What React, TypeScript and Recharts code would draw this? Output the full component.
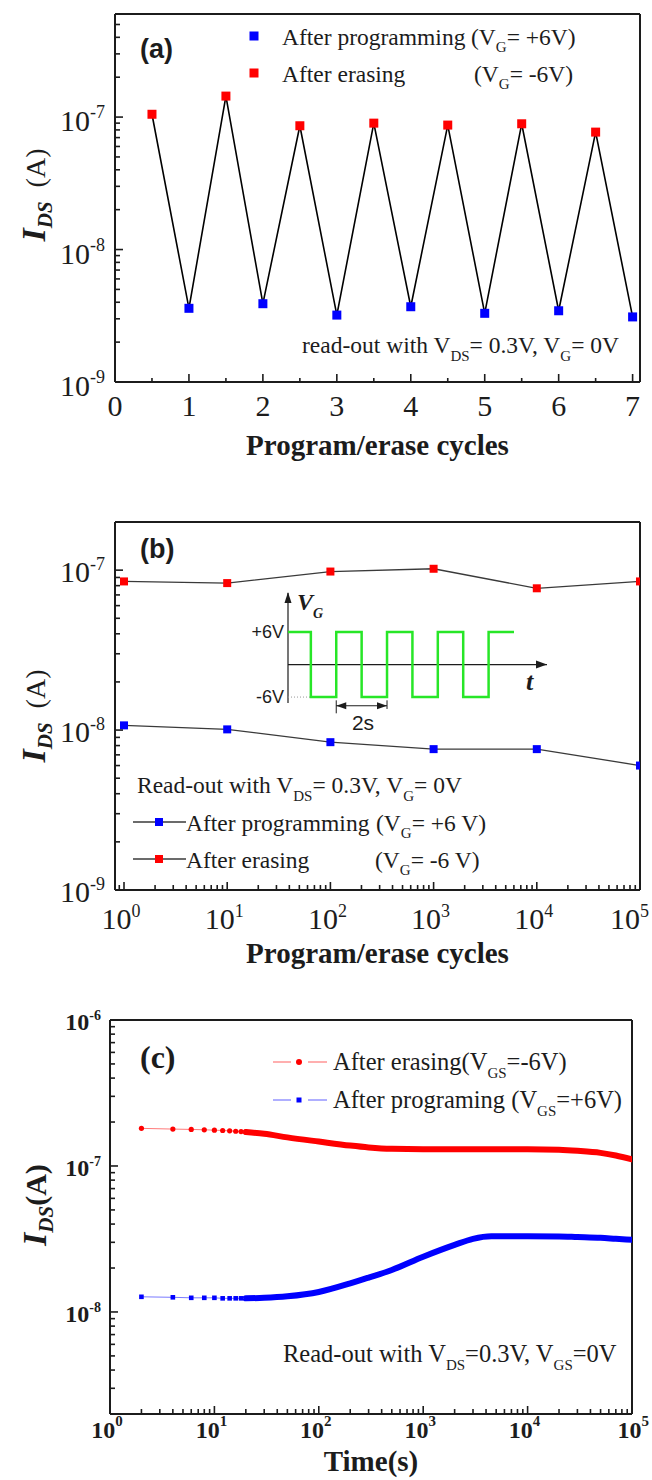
import React from "react";
import { LineChart, Line, XAxis, YAxis, ReferenceLine, ReferenceDot } from "recharts";

const SERIF = "'Liberation Serif', 'Times New Roman', serif";
const SANS = "'Liberation Sans', Arial, sans-serif";
const INK = "#1c1c1c";
const RED = "#ff0000";
const BLUE = "#0000ff";
const GREEN = "#27e627";

// (a) program / erase alternating, linear cycle axis
const eraseCyclesA = [0.5, 1.5, 2.5, 3.5, 4.5, 5.5, 6.5];
const eraseA = [1.05e-7, 1.44e-7, 8.6e-8, 9.0e-8, 8.7e-8, 8.9e-8, 7.7e-8];
const progCyclesA = [1, 2, 3, 4, 5, 6, 7];
const progA = [3.6e-9, 3.9e-9, 3.2e-9, 3.7e-9, 3.3e-9, 3.45e-9, 3.1e-9];
const xTicksA = [0, 0.5, 1, 1.5, 2, 2.5, 3, 3.5, 4, 4.5, 5, 5.5, 6, 6.5, 7];

// (b) endurance over log cycles
const cyclesB = [1, 10, 100, 1000, 10000, 100000];
const eraseB = [8.5e-8, 8.3e-8, 9.8e-8, 1.02e-7, 7.7e-8, 8.5e-8];
const progB = [1.07e-8, 1.01e-8, 8.4e-9, 7.6e-9, 7.6e-9, 6.0e-9];

// inset: gate pulse train (s, V)
const pulseT = [0, 0.9, 1.9, 2.9, 3.9, 4.9, 5.9, 6.9, 7.9, 8.9];
const pulseV = [6, -6, 6, -6, 6, -6, 6, -6, 6, 6];

// (c) retention: sparse early readings, then the dense band
const earlyT = [2, 4, 6, 8, 10, 12, 14, 16, 18, 20];
const earlyErase = [1.81e-7, 1.79e-7, 1.78e-7, 1.77e-7, 1.76e-7, 1.75e-7, 1.74e-7, 1.73e-7, 1.72e-7, 1.71e-7];
const earlyProg = [1.27e-8, 1.26e-8, 1.25e-8, 1.25e-8, 1.25e-8, 1.24e-8, 1.24e-8, 1.24e-8, 1.24e-8, 1.24e-8];
const bandT = [20, 30, 50, 100, 200, 300, 500, 1000, 2000, 3000, 4500, 10000, 20000, 30000, 50000, 70000, 100000];
const bandErase = [1.71e-7, 1.66e-7, 1.57e-7, 1.47e-7, 1.38e-7, 1.34e-7, 1.31e-7, 1.30e-7, 1.30e-7, 1.30e-7, 1.30e-7, 1.30e-7, 1.29e-7, 1.27e-7, 1.23e-7, 1.18e-7, 1.11e-7];
const bandProg = [1.24e-8, 1.25e-8, 1.28e-8, 1.37e-8, 1.57e-8, 1.72e-8, 1.94e-8, 2.39e-8, 2.88e-8, 3.17e-8, 3.30e-8, 3.30e-8, 3.29e-8, 3.26e-8, 3.22e-8, 3.17e-8, 3.12e-8];

const logTicks = (lo: number, hi: number) => {
  const out: number[] = [];
  for (let e = lo; e < hi; e++) for (let m = 1; m < 10; m++) out.push(m * Math.pow(10, e));
  out.push(Math.pow(10, hi));
  return out;
};
const isMajor = (v: number) => Math.abs(Math.log10(v) - Math.round(Math.log10(v))) < 1e-6;

const yTicksA = logTicks(-9, -6).filter((v) => v <= 6.01e-7);
const yTicksB = logTicks(-9, -6).filter((v) => v <= 2.01e-7);
const xTicksB = [0.9, ...logTicks(0, 5)];
const yTicksC = logTicks(-9, -6).filter((v) => v >= 1.99e-9);
const xTicksC = logTicks(0, 5);

const rowsA = [
  ...eraseCyclesA.map((x, k) => ({ x, i: eraseA[k], kind: "e" })),
  ...progCyclesA.map((x, k) => ({ x, i: progA[k], kind: "p" })),
].sort((a, b) => a.x - b.x);
const rowsB = cyclesB.map((n, k) => ({ n, erase: eraseB[k], prog: progB[k] }));
const pulseRows = pulseT.map((t, k) => ({ t, v: pulseV[k] }));
const earlyRows = earlyT.map((t, k) => ({ t, erase: earlyErase[k], prog: earlyProg[k] }));
const bandRows = bandT.map((t, k) => ({ t, erase: bandErase[k], prog: bandProg[k] }));

type TickFont = { size: number; sup: number; supDy: number; bold?: boolean; gap: number; dy: number };

const leftLogTick = (f: TickFont) => (p: any) => {
  const v = p.payload.value;
  const major = isMajor(v);
  const e = Math.round(Math.log10(v));
  return (
    <g key={`yl${p.index}`}>
      <line x1={p.x} y1={p.y} x2={p.x + (major ? 8 : 5)} y2={p.y} stroke={INK} strokeWidth={1.6} />
      {major && (
        <text x={p.x - f.gap} y={p.y + f.dy} textAnchor="end" fontFamily={SERIF} fontSize={f.size}
          fontWeight={f.bold ? 700 : 400} fill={INK}>
          10<tspan dy={f.supDy} fontSize={f.sup}>{e}</tspan>
        </text>
      )}
    </g>
  );
};

const bottomLogTick = (f: TickFont) => (p: any) => {
  const v = p.payload.value;
  const major = isMajor(v);
  const e = Math.round(Math.log10(v));
  // keep the last label inside the page edge
  const nearEdge = p.x + f.size > 648;
  return (
    <g key={`xl${p.index}`}>
      <line x1={p.x} y1={p.y} x2={p.x} y2={p.y - (major ? 8 : 5)} stroke={INK} strokeWidth={1.6} />
      {major && (
        <text x={nearEdge ? 649 : p.x - f.gap} y={p.y + f.dy} textAnchor={nearEdge ? "end" : "middle"}
          fontFamily={SERIF} fontSize={f.size} fontWeight={f.bold ? 700 : 400} fill={INK}>
          10<tspan dy={f.supDy} fontSize={f.sup}>{e}</tspan>
        </text>
      )}
    </g>
  );
};

const linTickA = (p: any) => {
  const v = p.payload.value;
  const major = Number.isInteger(v);
  return (
    <g key={`xa${p.index}`}>
      <line x1={p.x} y1={p.y} x2={p.x} y2={p.y - (major ? 8 : 4)} stroke={INK} strokeWidth={1.6} />
      {major && (
        <text x={p.x} y={p.y + 34} textAnchor="middle" fontFamily={SERIF} fontSize={30} fill={INK}>{v}</text>
      )}
    </g>
  );
};

const square = (size: number, pick: (p: any) => string) => (p: any) => (
  <rect key={`sq${p.index}`} x={p.cx - size / 2} y={p.cy - size / 2} width={size} height={size} fill={pick(p)} />
);

const axisLine = { stroke: INK, strokeWidth: 2 };

const PanelA = () => (
  <LineChart width={652} height={480} data={rowsA} margin={{ top: 14, right: 12, bottom: 0, left: 0 }}>
    <XAxis dataKey="x" type="number" domain={[0, 7.1]} allowDataOverflow ticks={xTicksA} interval={0} height={98}
      tickSize={0} tickMargin={0} tickLine={false} axisLine={axisLine} tick={linTickA} />
    <YAxis type="number" scale="log" domain={[1e-9, 6e-7]} allowDataOverflow ticks={yTicksA} interval={0} width={115}
      tickSize={0} tickMargin={0} tickLine={false} axisLine={axisLine}
      tick={leftLogTick({ size: 30, sup: 18, supDy: -13, gap: 10, dy: 14 })} />
    <ReferenceLine y={6e-7} stroke={INK} strokeWidth={2} ifOverflow="visible" />
    <ReferenceLine x={7.1} stroke={INK} strokeWidth={2} ifOverflow="visible" />
    <Line dataKey="i" stroke="#000" strokeWidth={1.6} isAnimationActive={false}
      dot={square(9, (p) => (p.payload.kind === "p" ? BLUE : RED))} />
  </LineChart>
);

const PanelB = () => (
  <LineChart width={652} height={480} data={rowsB} margin={{ top: 22, right: 12, bottom: 0, left: 0 }}>
    <XAxis dataKey="n" type="number" scale="log" domain={[0.818, 1e5]} allowDataOverflow ticks={xTicksB} interval={0}
      height={90} tickSize={0} tickMargin={0} tickLine={false} axisLine={axisLine}
      tick={bottomLogTick({ size: 30, sup: 18, supDy: -12, gap: 3, dy: 39 })} />
    <YAxis type="number" scale="log" domain={[1e-9, 2e-7]} allowDataOverflow ticks={yTicksB} interval={0} width={115}
      tickSize={0} tickMargin={0} tickLine={false} axisLine={axisLine}
      tick={leftLogTick({ size: 30, sup: 18, supDy: -12, gap: 10, dy: 12 })} />
    <ReferenceLine y={2e-7} stroke={INK} strokeWidth={2} ifOverflow="visible" />
    <ReferenceLine x={1e5} stroke={INK} strokeWidth={2} ifOverflow="visible" />
    <Line dataKey="erase" stroke="#3a3a3a" strokeWidth={1.3} isAnimationActive={false} dot={square(8, () => RED)} />
    <Line dataKey="prog" stroke="#3a3a3a" strokeWidth={1.3} isAnimationActive={false} dot={square(8, () => BLUE)} />
  </LineChart>
);

const arrow = (d: (x: number, y: number) => string) => (p: any) => <path d={d(p.cx, p.cy)} fill={INK} />;

const PulseInset = () => (
  <LineChart width={340} height={170} data={pulseRows} margin={{ top: 22, right: 23, bottom: 25.6, left: 58 }}>
    <XAxis dataKey="t" type="number" domain={[0, 10.2]} allowDataOverflow hide />
    <YAxis type="number" domain={[-9.2, 13.4]} allowDataOverflow hide />
    <ReferenceLine y={0} stroke={INK} strokeWidth={1.2} ifOverflow="visible" />
    <ReferenceLine segment={[{ x: 0, y: -7.1 }, { x: 0, y: 13.2 }]} stroke={INK} strokeWidth={1.2} ifOverflow="visible" />
    <ReferenceLine segment={[{ x: 0, y: -6 }, { x: 0.9, y: -6 }]} stroke="#999" strokeWidth={1} strokeDasharray="1 2" ifOverflow="visible" />
    <ReferenceLine segment={[{ x: 1.9, y: -7.6 }, { x: 3.9, y: -7.6 }]} stroke={INK} strokeWidth={1.2} ifOverflow="visible" />
    <ReferenceLine segment={[{ x: 1.9, y: -6.6 }, { x: 1.9, y: -9.0 }]} stroke={INK} strokeWidth={1} ifOverflow="visible" />
    <ReferenceLine segment={[{ x: 3.9, y: -6.6 }, { x: 3.9, y: -8.2 }]} stroke={INK} strokeWidth={1} ifOverflow="visible" />
    <ReferenceDot x={10.2} y={0} r={1} ifOverflow="visible" shape={arrow((x, y) => `M${x},${y} l-11,-4 l0,8 z`)} />
    <ReferenceDot x={0} y={13.4} r={1} ifOverflow="visible" shape={arrow((x, y) => `M${x},${y} l-3.5,11 l7,0 z`)} />
    <ReferenceDot x={1.9} y={-7.6} r={1} ifOverflow="visible" shape={arrow((x, y) => `M${x},${y} l10,-3.5 l0,7 z`)} />
    <ReferenceDot x={3.9} y={-7.6} r={1} ifOverflow="visible" shape={arrow((x, y) => `M${x},${y} l-10,-3.5 l0,7 z`)} />
    <Line dataKey="v" type="stepAfter" stroke={GREEN} strokeWidth={2.5} dot={false} isAnimationActive={false} />
  </LineChart>
);

const PanelC = () => (
  <LineChart width={652} height={490} margin={{ top: 30, right: 20, bottom: 0, left: 0 }}>
    <XAxis dataKey="t" type="number" scale="log" domain={[1, 1e5]} allowDataOverflow ticks={xTicksC} interval={0}
      height={66} tickSize={0} tickMargin={0} tickLine={false} axisLine={axisLine}
      tick={bottomLogTick({ size: 24, sup: 15, supDy: -12, gap: 3, dy: 24, bold: true })} />
    <YAxis type="number" scale="log" domain={[2e-9, 1e-6]} allowDataOverflow ticks={yTicksC} interval={0} width={110}
      tickSize={0} tickMargin={0} tickLine={false} axisLine={axisLine}
      tick={leftLogTick({ size: 24, sup: 14, supDy: -10, gap: 9, dy: 10, bold: true })} />
    <ReferenceLine y={1e-6} stroke={INK} strokeWidth={2} ifOverflow="visible" />
    <ReferenceLine x={1e5} stroke={INK} strokeWidth={2} ifOverflow="visible" />
    <Line data={bandRows} dataKey="erase" type="monotone" stroke={RED} strokeWidth={6} strokeLinecap="round"
      dot={false} isAnimationActive={false} />
    <Line data={bandRows} dataKey="prog" type="monotone" stroke={BLUE} strokeWidth={6} strokeLinecap="round"
      dot={false} isAnimationActive={false} />
    <Line data={earlyRows} dataKey="erase" stroke="#ff7a7a" strokeWidth={1} isAnimationActive={false}
      dot={(p: any) => <circle key={`ce${p.index}`} cx={p.cx} cy={p.cy} r={2.6} fill={RED} />} />
    <Line data={earlyRows} dataKey="prog" stroke="#7a7aff" strokeWidth={1} isAnimationActive={false}
      dot={square(4.6, () => BLUE)} />
  </LineChart>
);

const Overlay = () => (
  <svg width={652} height={1480} style={{ position: "absolute", left: 0, top: 0, pointerEvents: "none" }}>
    <g fontFamily={SERIF} fill={INK}>
      {/* panel (a) */}
      <text x={140} y={58} fontFamily={SANS} fontWeight={700} fontSize={27}>(a)</text>
      <rect x={249.5} y={31.5} width={9} height={9} fill={BLUE} />
      <rect x={249.5} y={68.5} width={9} height={9} fill={RED} />
      <text x={282} y={45} fontSize={23.5}>After programming</text>
      <text x={471} y={45} fontSize={23.5}>(V<tspan dy={7} fontSize={15}>G</tspan><tspan dy={-7}>= +6V)</tspan></text>
      <text x={282} y={82} fontSize={23.5}>After erasing</text>
      <text x={474} y={82} fontSize={23.5}>(V<tspan dy={7} fontSize={15}>G</tspan><tspan dy={-7}>= -6V)</tspan></text>
      <text x={302} y={353} fontSize={23.5}>
        read-out with V<tspan dy={8} fontSize={15}>DS</tspan><tspan dy={-8}>= 0.3V, V</tspan>
        <tspan dy={8} fontSize={15}>G</tspan><tspan dy={-8}>= 0V</tspan>
      </text>
      <text x={377.5} y={455} textAnchor="middle" fontWeight={700} fontSize={29}>Program/erase cycles</text>
      <text transform="translate(45,195) rotate(-90)" textAnchor="middle">
        <tspan fontWeight={700} fontStyle="italic" fontSize={34}>I</tspan>
        <tspan dy={7} fontWeight={700} fontStyle="italic" fontSize={21}>DS</tspan>
        <tspan dy={-7} fontSize={28}>{"\u00a0\u00a0(A)"}</tspan>
      </text>

      {/* panel (b) */}
      <text x={140} y={558} fontFamily={SANS} fontWeight={700} fontSize={27}>(b)</text>
      <text x={137} y={793} fontSize={23.5}>
        Read-out with V<tspan dy={8} fontSize={15}>DS</tspan><tspan dy={-8}>= 0.3V, V</tspan>
        <tspan dy={8} fontSize={15}>G</tspan><tspan dy={-8}>= 0V</tspan>
      </text>
      <line x1={133} y1={822} x2={186} y2={822} stroke="#3a3a3a" strokeWidth={1.3} />
      <rect x={155} y={818} width={8} height={8} fill={BLUE} />
      <text x={186} y={831} fontSize={23.5}>After programming</text>
      <text x={376} y={831} fontSize={23.5}>(V<tspan dy={7} fontSize={15}>G</tspan><tspan dy={-7}>= +6 V)</tspan></text>
      <line x1={133} y1={859} x2={186} y2={859} stroke="#3a3a3a" strokeWidth={1.3} />
      <rect x={155} y={855} width={8} height={8} fill={RED} />
      <text x={186} y={868} fontSize={23.5}>After erasing</text>
      <text x={375} y={868} fontSize={23.5}>(V<tspan dy={7} fontSize={15}>G</tspan><tspan dy={-7}>= -6 V)</tspan></text>
      <text x={377.5} y={963} textAnchor="middle" fontWeight={700} fontSize={29}>Program/erase cycles</text>
      <text transform="translate(45,716) rotate(-90)" textAnchor="middle">
        <tspan fontWeight={700} fontStyle="italic" fontSize={34}>I</tspan>
        <tspan dy={7} fontWeight={700} fontStyle="italic" fontSize={21}>DS</tspan>
        <tspan dy={-7} fontSize={28}>{"\u00a0\u00a0(A)"}</tspan>
      </text>
      {/* inset labels */}
      <text x={297} y={610} fontWeight={700} fontStyle="italic" fontSize={24}>V<tspan dy={8} fontSize={14}>G</tspan></text>
      <text x={284} y={638} textAnchor="end" fontFamily={SANS} fontSize={18}>+6V</text>
      <text x={284} y={703} textAnchor="end" fontFamily={SANS} fontSize={18}>-6V</text>
      <text x={526} y={690} fontWeight={700} fontStyle="italic" fontSize={26}>t</text>
      <text x={363} y={730} textAnchor="middle" fontFamily={SANS} fontSize={21}>2s</text>

      {/* panel (c) */}
      <text x={140} y={1068} fontWeight={700} fontSize={32}>(c)</text>
      <line x1={273} y1={1062} x2={291} y2={1062} stroke="#ff7a7a" strokeWidth={1.2} />
      <line x1={308} y1={1062} x2={327} y2={1062} stroke="#ff7a7a" strokeWidth={1.2} />
      <circle cx={299} cy={1062} r={3} fill={RED} />
      <text x={333} y={1070} fontSize={24.5}>After erasing(V<tspan dy={8} fontSize={15}>GS</tspan><tspan dy={-8}>=-6V)</tspan></text>
      <line x1={273} y1={1100} x2={291} y2={1100} stroke="#7a7aff" strokeWidth={1.2} />
      <line x1={308} y1={1100} x2={327} y2={1100} stroke="#7a7aff" strokeWidth={1.2} />
      <rect x={296.5} y={1097.5} width={5} height={5} fill={BLUE} />
      <text x={333} y={1108} fontSize={24.5}>After programing (V<tspan dy={8} fontSize={15}>GS</tspan><tspan dy={-8}>=+6V)</tspan></text>
      <text x={283} y={1362} fontSize={24.5}>
        Read-out with V<tspan dy={8} fontSize={15}>DS</tspan><tspan dy={-8}>=0.3V, V</tspan>
        <tspan dy={8} fontSize={15}>GS</tspan><tspan dy={-8}>=0V</tspan>
      </text>
      <text x={371} y={1471} textAnchor="middle" fontWeight={700} fontSize={29}>Time(s)</text>
      <text transform="translate(46,1205) rotate(-90)" textAnchor="middle" fontWeight={700}>
        <tspan fontStyle="italic" fontSize={34}>I</tspan>
        <tspan dy={7} fontStyle="italic" fontSize={21}>DS</tspan>
        <tspan dy={-7} fontSize={30}>(A)</tspan>
      </text>
    </g>
  </svg>
);

export default function App() {
  return (
    <div style={{ position: "absolute", left: 0, top: 0, width: 652, height: 1480, background: "#fff", overflow: "hidden" }}>
      <div style={{ position: "absolute", left: 0, top: 0 }}><PanelA /></div>
      <div style={{ position: "absolute", left: 0, top: 500 }}><PanelB /></div>
      <div style={{ position: "absolute", left: 230, top: 570 }}><PulseInset /></div>
      <div style={{ position: "absolute", left: 0, top: 990 }}><PanelC /></div>
      <Overlay />
    </div>
  );
}
